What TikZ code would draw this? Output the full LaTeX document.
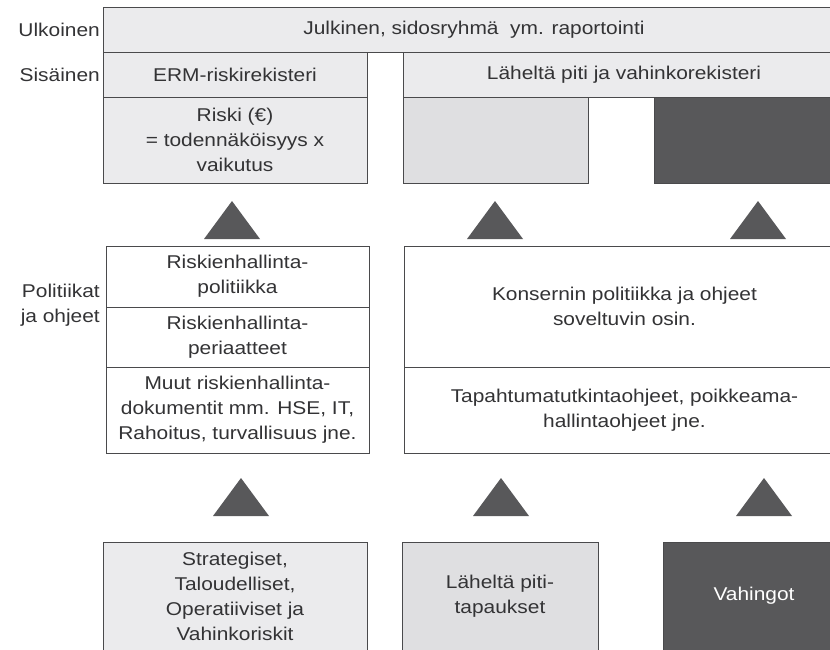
\documentclass[tikz,border=0pt]{standalone}
\usepackage{fontspec}
\setmainfont{Liberation Sans}[FakeStretch=1.13]
\usepackage{xcolor}
\usetikzlibrary{positioning}

\definecolor{boxgray}{HTML}{EBEBED}
\definecolor{midgray}{HTML}{DFDFE1}
\definecolor{shadegray}{HTML}{58585A}
\definecolor{linegray}{HTML}{4A4A4C}
\definecolor{txtgray}{HTML}{333335}

\begin{document}
\begin{tikzpicture}[x=1pt, y=-1pt,
    field/.style={rectangle, draw=linegray, line width=1pt, fill=boxgray, inner sep=0pt, outer sep=0pt, align=center, text=txtgray, font=\fontsize{18.5}{25}\selectfont},
    lightfield/.style={field, fill=midgray},
    darkfield/.style={field, fill=shadegray, text=white},
    plainfield/.style={field, fill=white},
    sidelabel/.style={anchor=east, align=right, inner sep=0pt, text=txtgray, font=\fontsize{18.5}{25}\selectfont},
    uptri/.style={fill=shadegray}]

    \clip (0,0) rectangle (830,649);

    % Reporting rows
    \node[field, minimum width=742, minimum height=45] (report) at (474,29.5) {Julkinen, sidosryhmä\ \ ym. raportointi};
    \node[field, minimum width=264, minimum height=45] (erm) at (235,74.5) {ERM-riskirekisteri};
    \node[field, minimum width=442, minimum height=45] (register) at (624,74.5) {Läheltä piti ja vahinkorekisteri};
    \node[field, minimum width=264, minimum height=86] (riski) at (235,140) {Riski (€)\\= todennäköisyys x\\vaikutus};
    \node[lightfield, minimum width=185, minimum height=86] (nearreg) at (495.5,140) {};
    \node[darkfield, minimum width=191, minimum height=86] (lossreg) at (749.5,140) {};

    % Side labels
    \node[sidelabel] (ext) at (100,29.5) {Ulkoinen};
    \node[sidelabel] (int) at (100,74.5) {Sisäinen};
    \node[sidelabel] (pol) at (100,305) {Politiikat\\ja ohjeet};

    % Policies and guidelines
    \node[plainfield, minimum width=263, minimum height=61] (policy) at (237.5,276.5) {Riskienhallinta-\\politiikka};
    \node[plainfield, minimum width=263, minimum height=60] (principles) at (237.5,337) {Riskienhallinta-\\periaatteet};
    \node[plainfield, minimum width=263, minimum height=86] (otherdocs) at (237.5,410) {Muut riskienhallinta-\\dokumentit mm. HSE, IT,\\Rahoitus, turvallisuus jne.};
    \node[plainfield, minimum width=441, minimum height=121] (group) at (624.5,306.5) {Konsernin politiikka ja ohjeet\\soveltuvin osin.};
    \node[plainfield, minimum width=441, minimum height=86] (incident) at (624.5,410) {Tapahtumatutkintaohjeet, poikkeama-\\hallintaohjeet jne.};

    % Sources
    \node[field, minimum width=264, minimum height=108] (risks) at (235,596) {Strategiset,\\Taloudelliset,\\Operatiiviset ja\\Vahinkoriskit};
    \node[lightfield, minimum width=196, minimum height=108] (nearcase) at (500,596) {Läheltä piti-\\tapaukset};
    \node[darkfield, minimum width=182, minimum height=108] (losses) at (754,596) {Vahingot};

    % Upward triangles
    \foreach \cx/\ty in {232/201, 495/201, 758/201, 241/478, 501/478, 764/478}
        \fill[uptri] (\cx,\ty) -- ++(28,38) -- ++(-56,0) -- cycle;

\end{tikzpicture}
\end{document}
